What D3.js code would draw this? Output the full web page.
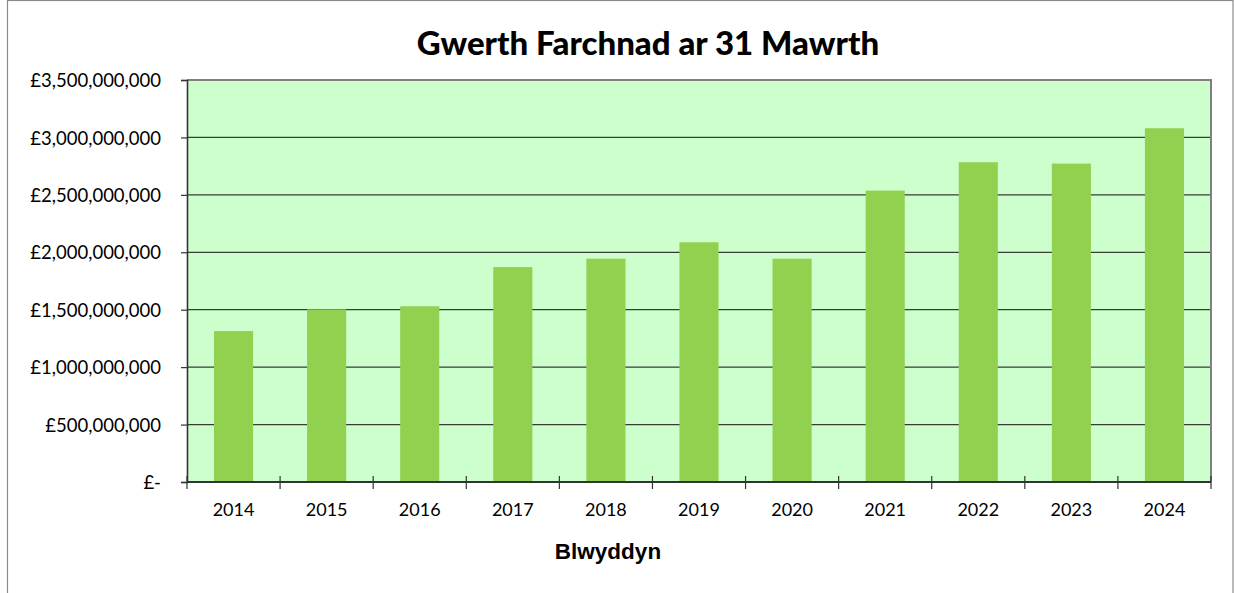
<!DOCTYPE html>
<html>
<head>
<meta charset="utf-8">
<script src="https://cdn.jsdelivr.net/npm/d3@7"></script>
<style>
  html, body { margin: 0; padding: 0; background: #ffffff; }
  svg { display: block; }
</style>
</head>
<body>
<svg id="chart" width="1234" height="593"></svg>
<script>
const years = ["2014", "2015", "2016", "2017", "2018", "2019", "2020", "2021", "2022", "2023", "2024"];
const marketValues = [1314000000, 1503000000, 1530000000, 1871000000, 1944000000, 2087000000, 1944000000, 2537000000, 2784000000, 2772000000, 3080000000];
const yTicks = [0, 500000000, 1000000000, 1500000000, 2000000000, 2500000000, 3000000000, 3500000000];
const titleText = "Gwerth Farchnad ar 31 Mawrth";
const xAxisTitle = "Blwyddyn";

const svg = d3.select("#chart");
const W = 1234, H = 593;
const plot = { left: 187, right: 1211, top: 80, bottom: 482 };

// outer chart border
svg.append("rect")
  .attr("x", 7.5).attr("y", 0.5)
  .attr("width", 1225.5).attr("height", H + 10)
  .attr("fill", "#ffffff")
  .attr("stroke", "#8a8a8a").attr("stroke-width", 1.2);

const x = d3.scaleBand().domain(years).range([plot.left, plot.right]).paddingInner(0.58).paddingOuter(0.29);
const xCat = d3.scaleBand().domain(years).range([plot.left, plot.right]);
const y = d3.scaleLinear().domain([0, 3500000000]).range([plot.bottom, plot.top]);

// plot background
svg.append("rect")
  .attr("x", plot.left).attr("y", plot.top)
  .attr("width", plot.right - plot.left).attr("height", plot.bottom - plot.top)
  .attr("fill", "#CCFFCC");

// gridlines
svg.append("g").selectAll("line")
  .data(yTicks.filter(d => d > 0 && d < 3500000000))
  .join("line")
  .attr("x1", plot.left).attr("x2", plot.right)
  .attr("y1", d => y(d)).attr("y2", d => y(d))
  .attr("stroke", "#3a3a3a").attr("stroke-width", 1.3);

// plot border top/right
svg.append("path")
  .attr("d", `M${plot.left},${plot.top}H${plot.right}V${plot.bottom}`)
  .attr("fill", "none").attr("stroke", "#808080").attr("stroke-width", 2);

// bars
svg.append("g").selectAll("rect")
  .data(years.map((yr, i) => ({ yr, v: marketValues[i] })))
  .join("rect")
  .attr("x", d => x(d.yr))
  .attr("y", d => y(d.v))
  .attr("width", x.bandwidth())
  .attr("height", d => y(0) - y(d.v))
  .attr("fill", "#92D050");

// y axis
const fmt = d3.format(",");
const yAxis = d3.axisLeft(y).tickValues(yTicks).tickSize(6).tickPadding(20)
  .tickFormat(d => d === 0 ? "£-" : "£" + fmt(d));
const gy = svg.append("g").attr("transform", `translate(${plot.left},0)`).call(yAxis);
gy.select(".domain").attr("stroke", "#333333").attr("stroke-width", 1.6);
gy.selectAll(".tick line").attr("stroke", "#333333").attr("stroke-width", 1.2);
gy.selectAll(".tick text")
  .attr("font-family", "Lato, 'Open Sans', sans-serif")
  .attr("font-size", "18.5px")
  .attr("fill", "#000")
  .attr("dy", "0.36em");

// x axis (tick marks cross at category boundaries)
const gx = svg.append("g").attr("transform", `translate(0,${plot.bottom})`);
gx.append("line")
  .attr("x1", plot.left).attr("x2", plot.right)
  .attr("y1", 0).attr("y2", 0)
  .attr("stroke", "#333333").attr("stroke-width", 1.8);
const boundaries = years.map(yr => xCat(yr)).concat([plot.right]);
gx.selectAll("line.tk").data(boundaries).join("line")
  .attr("class", "tk")
  .attr("x1", d => d).attr("x2", d => d)
  .attr("y1", -6).attr("y2", 7)
  .attr("stroke", "#333333").attr("stroke-width", 1.2);
gx.selectAll("text").data(years).join("text")
  .attr("x", d => xCat(d) + xCat.bandwidth() / 2)
  .attr("y", 34)
  .attr("text-anchor", "middle")
  .attr("font-family", "Lato, 'Open Sans', sans-serif")
  .attr("font-size", "18px")
  .attr("fill", "#000")
  .text(d => d);

// title
svg.append("text")
  .attr("x", 648).attr("y", 55)
  .attr("text-anchor", "middle")
  .attr("font-family", "Lato, 'Open Sans', sans-serif")
  .attr("font-weight", "900")
  .attr("font-size", "33px")
  .attr("fill", "#000")
  .text(titleText);

// x axis title
svg.append("text")
  .attr("x", 608).attr("y", 559)
  .attr("text-anchor", "middle")
  .attr("font-family", "'Liberation Sans', Arial, sans-serif")
  .attr("font-weight", "bold")
  .attr("font-size", "22.5px")
  .attr("fill", "#000")
  .text(xAxisTitle);
</script>
</body>
</html>
